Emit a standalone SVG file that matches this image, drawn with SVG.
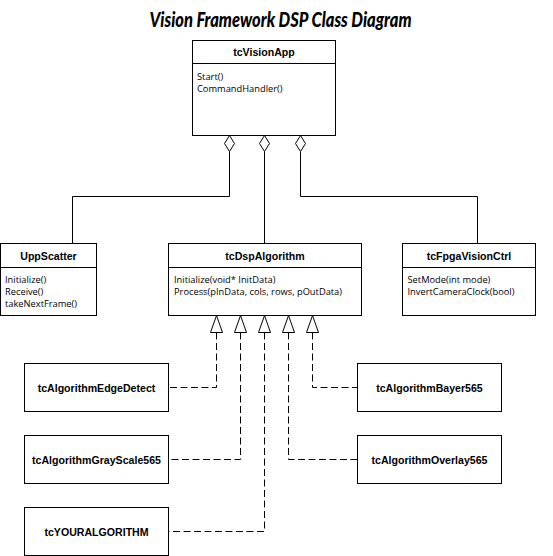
<svg xmlns="http://www.w3.org/2000/svg" width="553" height="556" viewBox="0 0 553 556">
<defs>
<style>
.box{fill:#fff;stroke:#000;stroke-width:1}
.name{font-family:"Liberation Sans",Arial,sans-serif;font-weight:bold;font-size:10.6px;fill:#000;text-anchor:middle}
.meth{font-family:"Open Sans","Noto Sans",sans-serif;font-size:9.3px;fill:#000}
.title{font-family:Lato,"Open Sans",sans-serif;font-weight:900;font-style:italic;font-size:20px;fill:#000;text-anchor:middle}
.line{fill:none;stroke:#000;stroke-width:1}
.dash{fill:none;stroke:#000;stroke-width:1;stroke-dasharray:7,3.5}
.dia{fill:#fff;stroke:#000;stroke-width:1}
.tri{fill:#fff;stroke:#000;stroke-width:1}
</style>
</defs>
<rect width="553" height="556" fill="#fff"/>
<text class="title" x="280.5" y="27" textLength="262" lengthAdjust="spacingAndGlyphs">Vision Framework DSP Class Diagram</text>

<g id="connectors">
<polyline class="line" points="229.5,151.5 229.5,196.5 72.5,196.5 72.5,243.5"/>
<polyline class="line" points="264.5,151.5 264.5,243.5"/>
<polyline class="line" points="300.5,151.5 300.5,196.5 477.5,196.5 477.5,243.5"/>
<polygon class="dia" points="229.5,135.5 234.5,143.5 229.5,151.5 224.5,143.5"/>
<polygon class="dia" points="264.5,135.5 269.5,143.5 264.5,151.5 259.5,143.5"/>
<polygon class="dia" points="300.5,135.5 305.5,143.5 300.5,151.5 295.5,143.5"/>
<polyline class="dash" points="216.5,332.5 216.5,387.5 168.5,387.5"/>
<polyline class="dash" points="240.5,332.5 240.5,459.5 168.5,459.5"/>
<polyline class="dash" points="264.5,332.5 264.5,531.5 168.5,531.5"/>
<polyline class="dash" points="288.5,332.5 288.5,459.5 357.5,459.5"/>
<polyline class="dash" points="312.5,332.5 312.5,387.5 357.5,387.5"/>
<polygon class="tri" points="216.5,315.5 222.5,332.5 210.5,332.5"/>
<polygon class="tri" points="240.5,315.5 246.5,332.5 234.5,332.5"/>
<polygon class="tri" points="264.5,315.5 270.5,332.5 258.5,332.5"/>
<polygon class="tri" points="288.5,315.5 294.5,332.5 282.5,332.5"/>
<polygon class="tri" points="312.5,315.5 318.5,332.5 306.5,332.5"/>
</g>

<g id="tcVisionApp">
<rect class="box" x="192.5" y="40.5" width="143" height="95"/>
<line class="line" x1="192.5" y1="63.5" x2="335.5" y2="63.5"/>
<text class="name" x="264" y="56">tcVisionApp</text>
<text class="meth" x="197" y="80">Start()</text>
<text class="meth" x="197" y="92">CommandHandler()</text>
</g>

<g id="UppScatter">
<rect class="box" x="0.5" y="243.5" width="96" height="72"/>
<line class="line" x1="0.5" y1="267.5" x2="96.5" y2="267.5"/>
<text class="name" x="48.5" y="259.5">UppScatter</text>
<text class="meth" x="5" y="283">Initialize()</text>
<text class="meth" x="5" y="295">Receive()</text>
<text class="meth" x="5" y="307">takeNextFrame()</text>
</g>

<g id="tcDspAlgorithm">
<rect class="box" x="168.5" y="243.5" width="193" height="72"/>
<line class="line" x1="168.5" y1="267.5" x2="361.5" y2="267.5"/>
<text class="name" x="265" y="259.5">tcDspAlgorithm</text>
<text class="meth" x="174" y="283">Initialize(void* InitData)</text>
<text class="meth" x="174" y="295">Process(pInData, cols, rows, pOutData)</text>
</g>

<g id="tcFpgaVisionCtrl">
<rect class="box" x="402.5" y="243.5" width="133" height="72"/>
<line class="line" x1="402.5" y1="267.5" x2="535.5" y2="267.5"/>
<text class="name" x="469" y="259.5">tcFpgaVisionCtrl</text>
<text class="meth" x="407.5" y="283">SetMode(int mode)</text>
<text class="meth" x="407.5" y="295">InvertCameraClock(bool)</text>
</g>

<g id="tcAlgorithmEdgeDetect">
<rect class="box" x="24.5" y="363.5" width="144" height="48"/>
<text class="name" x="96.5" y="391.5">tcAlgorithmEdgeDetect</text>
</g>

<g id="tcAlgorithmGrayScale565">
<rect class="box" x="24.5" y="435.5" width="144" height="48"/>
<text class="name" x="96.5" y="463.5">tcAlgorithmGrayScale565</text>
</g>

<g id="tcYOURALGORITHM">
<rect class="box" x="24.5" y="507.5" width="144" height="48"/>
<text class="name" x="96.5" y="535.5">tcYOURALGORITHM</text>
</g>

<g id="tcAlgorithmBayer565">
<rect class="box" x="357.5" y="363.5" width="144" height="48"/>
<text class="name" x="429.5" y="391.5">tcAlgorithmBayer565</text>
</g>

<g id="tcAlgorithmOverlay565">
<rect class="box" x="357.5" y="435.5" width="144" height="48"/>
<text class="name" x="429.5" y="463.5">tcAlgorithmOverlay565</text>
</g>
</svg>
